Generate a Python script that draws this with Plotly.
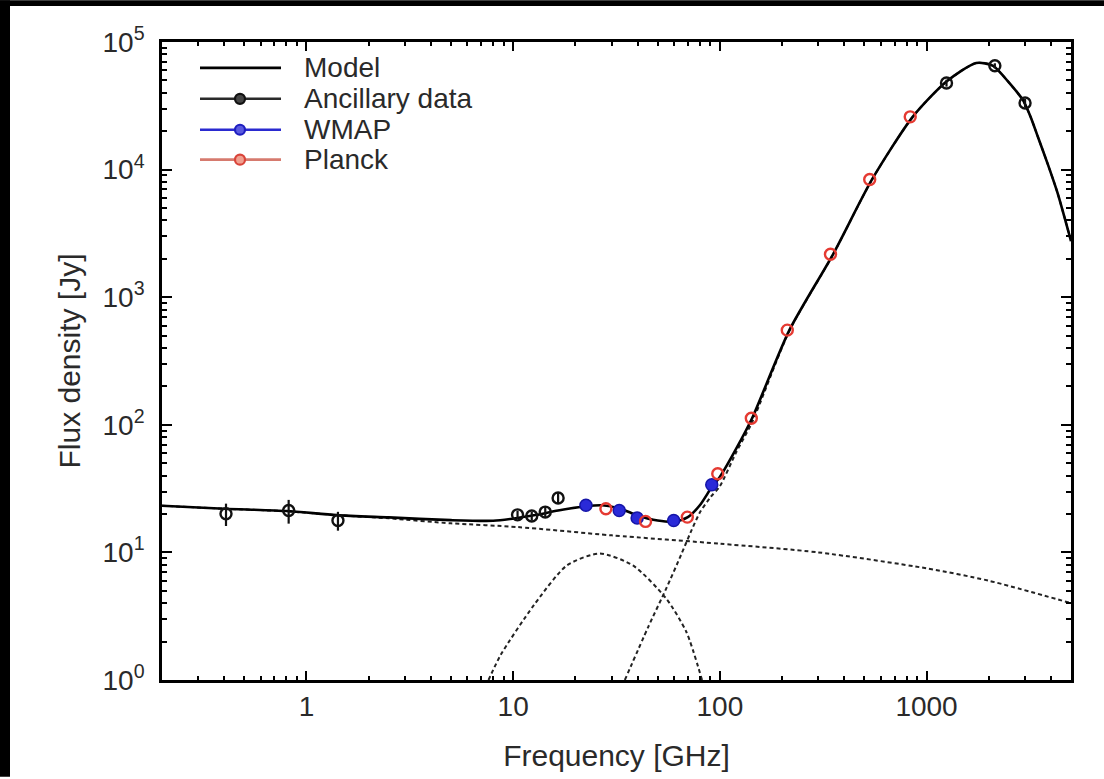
import plotly.graph_objects as go

# ---------------- data ----------------
# Ancillary data (black open circles)
anc_f = [0.408, 0.82, 1.42, 10.5, 12.3, 14.3, 16.5, 1249, 2141, 2997]
anc_s = [20.1, 21.3, 17.8, 19.7, 19.3, 20.7, 26.7, 47700, 65100, 33300]
anc_err = [4.0, 4.5, 3.0, 1.5, 1.5, 2.0, 2.5, 3000, 3000, 2500]

# WMAP (blue)
wmap_f = [22.5, 32.6, 39.8, 59.8, 91.4]
wmap_s = [23.4, 21.3, 18.6, 17.8, 33.9]

# Planck (red)
planck_f = [28.1, 43.7, 69.6, 97.7, 142, 212, 343, 531, 834]
planck_s = [22.0, 17.5, 18.9, 41.3, 112.6, 552, 2170, 8370, 25900]

# Total model (solid line)
model_f = [0.2, 0.4, 0.8, 1.4, 2.5, 5, 8, 10.5, 13, 16.5, 22.5, 27, 33, 40, 50, 60, 70, 80,
           91.4, 100, 120, 143, 217, 353, 545, 857, 1249, 1740, 2099, 2478, 2928, 3200,
           3460, 3864, 4300, 4876, 5000]
model_s = [23.2, 22.0, 21.1, 19.6, 18.8, 17.9, 17.7, 18.6, 19.7, 21.3, 23.0, 23.4, 22.0, 19.5,
           17.8, 17.4, 18.9, 23.4, 32.5, 39, 65, 112, 552, 2170, 8370, 25900, 49000, 68400,
           65100, 49100, 35000, 25500, 18000, 11000, 6600, 3200, 2750]

# Free-free component (dashed)
ff_f = [0.2, 0.4, 0.8, 1.4, 2.5, 5, 10.5, 30, 100, 300, 1000, 2000, 5000]
ff_s = [23.2, 22.0, 21.0, 19.6, 18.5, 16.9, 15.8, 13.6, 11.7, 10.0, 7.5, 6.0, 4.0]

# Anomalous microwave emission component (dashed)
ame_f = [7.6, 8.7, 12.6, 18.2, 26.2, 38.0, 55.0, 68.8, 82]
ame_s = [1.0, 1.57, 3.86, 7.9, 9.8, 7.9, 4.35, 2.39, 1.0]

# Thermal dust component (dashed)
dust_f = [34.7, 45, 55, 65, 72, 80, 90, 100, 120, 143, 217, 353, 545, 857, 1249, 1740,
          2099, 2478, 2928, 3200, 3460, 3864, 4300, 4876, 5000]
dust_s = [1.0, 2.6, 5.2, 9.6, 14.2, 20.5, 27, 33, 61, 104, 545, 2160, 8360, 25890, 49000,
          68400, 65100, 49100, 35000, 25500, 18000, 11000, 6600, 3200, 2750]

x_tick_vals = [1, 10, 100, 1000]
x_tick_text = ["1", "10", "100", "1000"]
y_tick_vals = [1, 10, 100, 1000, 10000, 100000]
y_tick_text = ["10<sup>0</sup>", "10<sup>1</sup>", "10<sup>2</sup>",
               "10<sup>3</sup>", "10<sup>4</sup>", "10<sup>5</sup>"]

legend_names = ["Model", "Ancillary data", "WMAP", "Planck"]

# ---------------- styling ----------------
FONT = "Liberation Sans, Arial, Helvetica, sans-serif"
TXT = "#2a2a2a"
FS = 28
FS_TITLE = 30
DASH = "4px,3px"

W, H = 1104, 779
L, R, T, B = 162, 33, 42, 97
pw, ph = W - L - R, H - T - B


def px(x):
    return (x - L) / pw


def py(y):
    return (H - B - y) / ph


fig = go.Figure()

for fx, sy in [(ff_f, ff_s), (ame_f, ame_s), (dust_f, dust_s)]:
    fig.add_trace(go.Scatter(x=fx, y=sy, mode="lines", showlegend=False, hoverinfo="skip",
                             line=dict(color="#222222", width=2, dash=DASH, shape="spline",
                                       smoothing=0.7)))

fig.add_trace(go.Scatter(x=model_f, y=model_s, mode="lines", showlegend=False,
                         line=dict(color="black", width=2.6, shape="spline", smoothing=0.7)))

fig.add_trace(go.Scatter(x=anc_f, y=anc_s, mode="markers", showlegend=False,
                         marker=dict(symbol="circle-open", size=11, color="#111111",
                                     line=dict(width=2.4, color="#111111")),
                         error_y=dict(type="data", array=anc_err, color="#111111",
                                      thickness=2.2, width=0)))

fig.add_trace(go.Scatter(x=wmap_f, y=wmap_s, mode="markers", showlegend=False,
                         marker=dict(symbol="circle", size=12, color="#2a2ad8",
                                     line=dict(width=1.5, color="#1515a8"))))

fig.add_trace(go.Scatter(x=planck_f, y=planck_s, mode="markers", showlegend=False,
                         marker=dict(symbol="circle-open", size=11, color="#e53a32",
                                     line=dict(width=2.4, color="#e53a32"))))

x_minor = [m * 10 ** e for e in range(-1, 4) for m in range(2, 10)]
y_minor = [m * 10 ** e for e in range(0, 5) for m in range(2, 10)]

common_axis = dict(showline=True, linecolor="black", linewidth=2.6, mirror="allticks",
                   ticks="inside", tickcolor="black", tickwidth=2, showgrid=False,
                   zeroline=False, tickfont=dict(family=FONT, size=FS, color=TXT))

fig.update_xaxes(type="log", range=[-0.699, 3.699], tickmode="array",
                 tickvals=x_tick_vals, ticktext=x_tick_text, ticklen=9,
                 minor=dict(tickmode="array", tickvals=x_minor, ticks="inside", ticklen=4,
                            tickwidth=2, tickcolor="black", showgrid=False),
                 title=dict(text="Frequency [GHz]",
                            font=dict(family=FONT, size=FS_TITLE, color=TXT), standoff=24),
                 **common_axis)
fig.update_yaxes(type="log", range=[0, 5], tickmode="array",
                 tickvals=y_tick_vals, ticktext=y_tick_text, ticklen=10,
                 ticklabelstandoff=9,
                 minor=dict(tickmode="array", tickvals=y_minor, ticks="inside", ticklen=5,
                            tickwidth=2, tickcolor="black", showgrid=False),
                 title=dict(text="Flux density [Jy]",
                            font=dict(family=FONT, size=FS_TITLE, color=TXT), standoff=14),
                 **common_axis)

# ---- hand-built legend (line samples, symbols, labels) ----
leg_line_colors = ["black", "#2a2a2a", "#2a2ad0", "#d67a6e"]
leg_mark_line = [None, "#111111", "#1f1fc0", "#d9443a"]
leg_mark_fill = [None, "#444444", "#5a5ae0", "#f0a090"]
leg_rows = [68, 99, 130, 160]
lx0, lx1, lxm, ltx = 200, 281, 240, 302

shapes = [
    dict(type="rect", xref="paper", yref="paper", x0=px(0), x1=px(10), y0=py(H), y1=py(0),
         fillcolor="black", line=dict(width=0), layer="below"),
    dict(type="rect", xref="paper", yref="paper", x0=px(0), x1=px(W), y0=py(6), y1=py(0),
         fillcolor="black", line=dict(width=0), layer="below"),
]
annotations = []
for i, name in enumerate(legend_names):
    yc = leg_rows[i]
    shapes.append(dict(type="line", xref="paper", yref="paper", x0=px(lx0), x1=px(lx1),
                       y0=py(yc), y1=py(yc), line=dict(color=leg_line_colors[i], width=2.6)))
    if leg_mark_line[i]:
        r = 5
        shapes.append(dict(type="circle", xref="paper", yref="paper",
                           x0=px(lxm - r), x1=px(lxm + r), y0=py(yc + r), y1=py(yc - r),
                           fillcolor=leg_mark_fill[i],
                           line=dict(color=leg_mark_line[i], width=2.2)))
    annotations.append(dict(text=name, xref="paper", yref="paper", x=px(ltx), y=py(yc),
                            xanchor="left", yanchor="middle", showarrow=False,
                            font=dict(family=FONT, size=FS, color=TXT)))

fig.update_layout(
    width=W, height=H,
    margin=dict(l=L, r=R, t=T, b=B, pad=0),
    paper_bgcolor="white", plot_bgcolor="white",
    font=dict(family=FONT, size=FS, color=TXT),
    showlegend=False,
    shapes=shapes,
    annotations=annotations,
)

fig.write_html("out.html", config={"displayModeBar": False},
               post_script="document.body.style.margin='0px';document.body.style.padding='0px';")
